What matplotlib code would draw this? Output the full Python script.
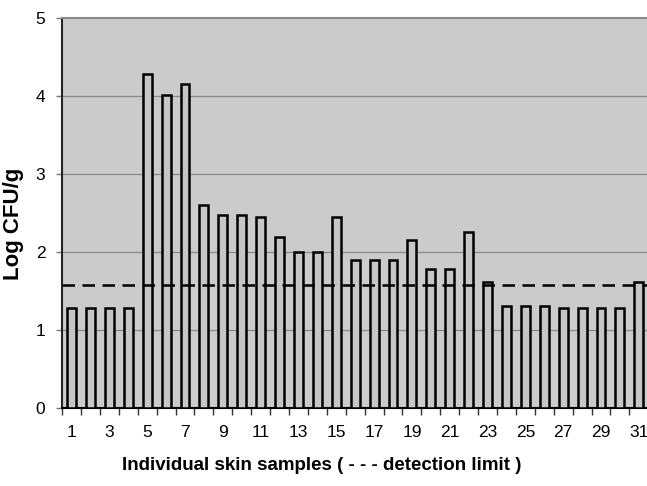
import numpy as np
import matplotlib
matplotlib.use("Agg")
from matplotlib import pyplot as plt

plt.rcParams['font.family'] = ['Liberation Sans', 'DejaVu Sans']

# data
samples = list(range(1, 32))
log_cfu = [1.29, 1.29, 1.29, 1.29, 4.28, 4.01, 4.15, 2.60, 2.48, 2.48,
           2.45, 2.20, 2.00, 2.00, 2.45, 1.90, 1.90, 1.90, 2.15, 1.78,
           1.78, 2.26, 1.62, 1.31, 1.31, 1.31, 1.29, 1.29, 1.29, 1.29,
           1.62]
detection_limit = 1.58
y_ticks = [0, 1, 2, 3, 4, 5]

fig = plt.figure(figsize=(6.47, 4.86), dpi=100)
ax = fig.add_axes([0.096, 0.160, 0.906, 0.803])
ax.set_facecolor('#cbcbcb')

x = np.arange(len(samples))
ax.bar(x, log_cfu, width=0.47, color='#c6c6c6', edgecolor='black', linewidth=1.8, zorder=3)

# detection limit line
ax.axhline(detection_limit, color='black', linestyle=(0, (5, 3)), linewidth=1.8, zorder=4)

ax.set_xlim(-0.5, len(samples) - 0.5)
ax.set_ylim(0, 5)
ax.set_yticks(y_ticks)
for yv in y_ticks[1:-1]:
    ax.axhline(yv, color='#8a8a8a', linewidth=0.9, zorder=1)

# ticks at category boundaries, labels every other sample
ax.set_xticks(np.arange(-0.5, len(samples), 1.0))
ax.set_xticklabels([])
ax.set_xticks(x[::2], minor=True)
ax.set_xticklabels([str(s) for s in samples[::2]], minor=True, fontsize=12.5)
ax.tick_params(axis='x', which='major', direction='out', length=5, width=1, color='#333333')
ax.tick_params(axis='x', which='minor', length=0, pad=12)
ax.tick_params(axis='y', direction='out', length=4, width=1, color='#777777', labelsize=12.5, pad=8)

ax.spines['top'].set_color('#8a8a8a')
ax.spines['top'].set_linewidth(1.5)
ax.spines['right'].set_visible(False)
ax.spines['left'].set_color('#222222')
ax.spines['left'].set_linewidth(1.5)
ax.spines['bottom'].set_color('black')
ax.spines['bottom'].set_linewidth(1.5)

ax.set_ylabel('Log CFU/g', fontsize=16, fontweight='bold')
ax.yaxis.set_label_coords(-0.065, 0.472)
ax.set_xlabel('Individual skin samples ( - - - detection limit )', fontsize=13.5, fontweight='bold')
ax.xaxis.set_label_coords(0.4436, -0.126)

fig.savefig('out.png', dpi=100)
